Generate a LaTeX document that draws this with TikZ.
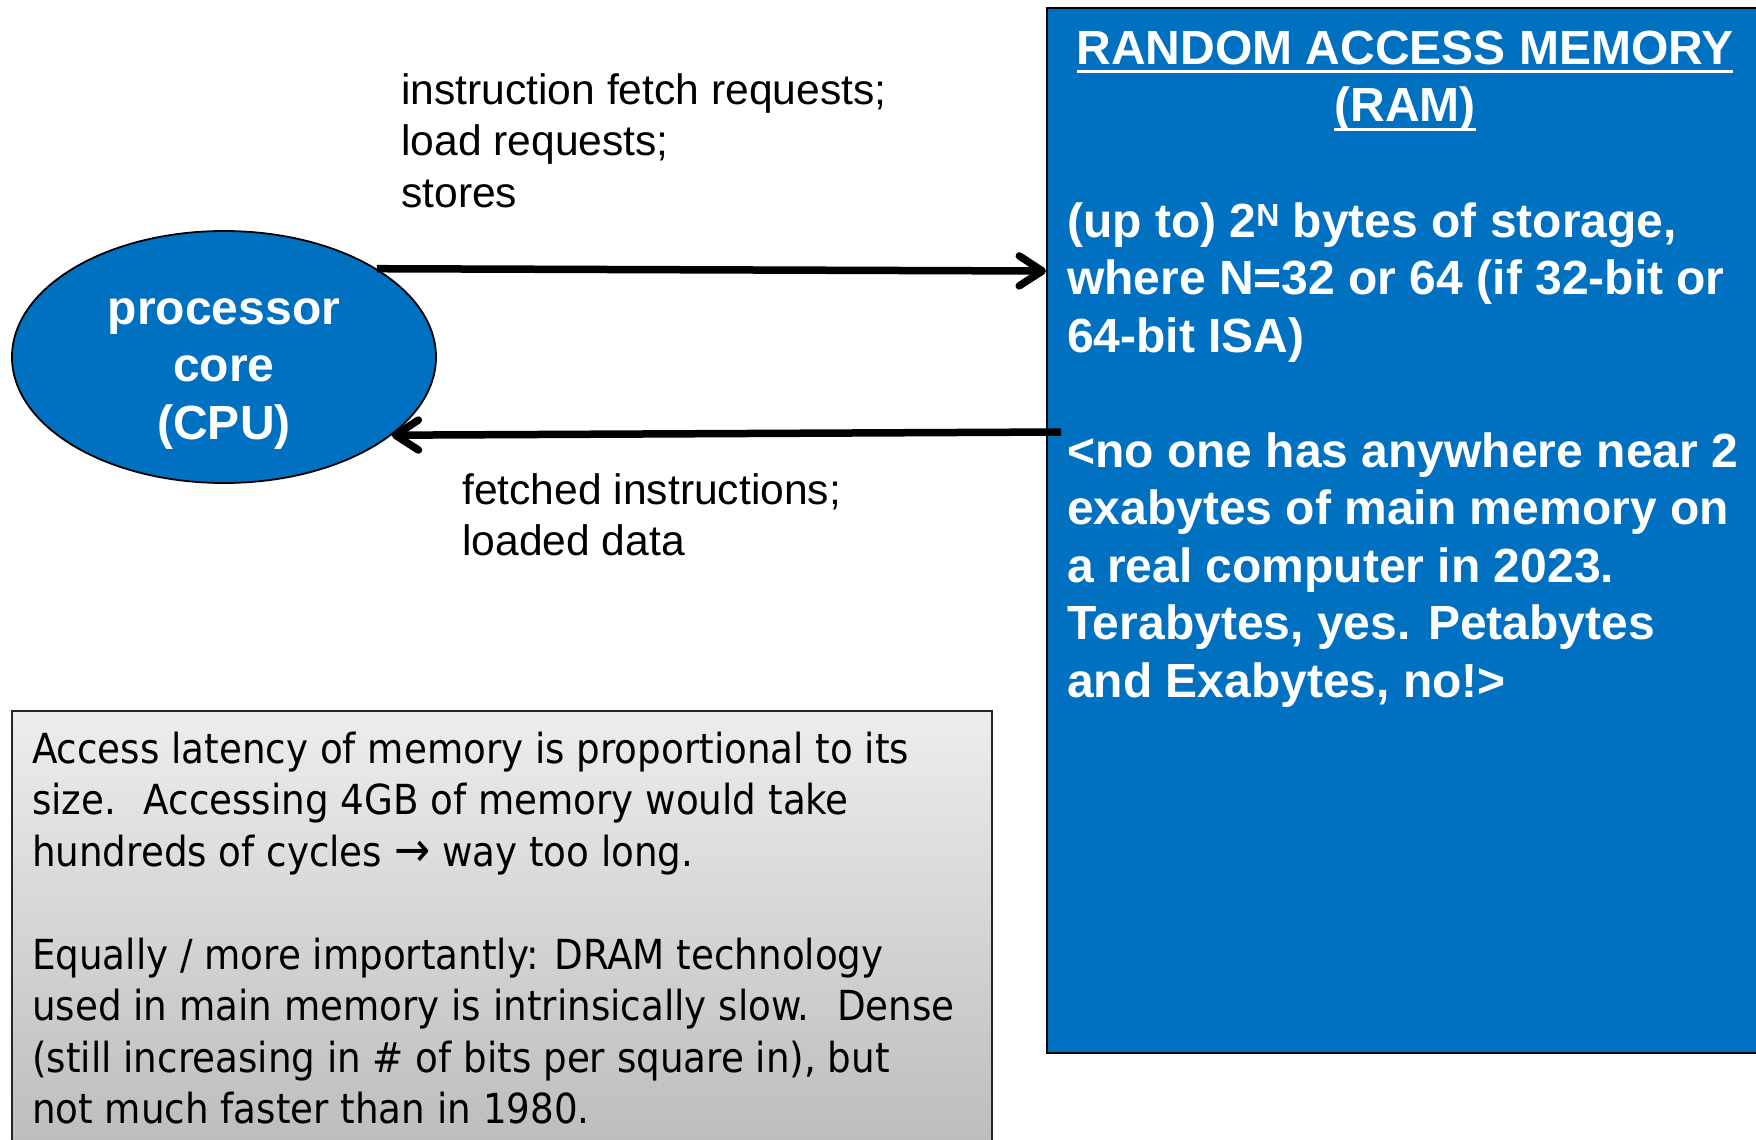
\documentclass[tikz,border=0pt]{standalone}
\usepackage{fontspec}
\setmainfont{Liberation Sans}
\newfontfamily\notefont{DejaVu Sans Condensed}
\usetikzlibrary{arrows.meta,shapes.geometric,calc}

\definecolor{ramblue}{HTML}{0070C0}
\definecolor{notetop}{HTML}{EDEDED}
\definecolor{notebottom}{HTML}{BBBBBB}

% underline drawn as a rule below the baseline
\newcommand\headrule[1]{\setbox0\hbox{#1}\rlap{\rule[-9.3pt]{\wd0}{3.3pt}}\box0}

% multi-line text nodes are placed by the baseline of their last line
\tikzset{
  ramblock/.style={rectangle, draw=black, line width=2pt, fill=ramblue,
    minimum width=716pt, minimum height=1045pt, inner sep=0pt},
  cpushape/.style={ellipse, draw=black, line width=1.8pt, fill=ramblue,
    minimum width=424pt, minimum height=252pt, inner sep=0pt},
  whitebold/.style={text=white, inner sep=0pt,
    font=\fontsize{48}{57.5}\selectfont\bfseries},
  flowlabel/.style={text=black, inner sep=0pt, align=left, anchor=base west,
    font=\fontsize{42.6}{51.5}\selectfont},
  notebox/.style={rectangle, draw=black!85, line width=1.6pt,
    top color=notetop, bottom color=notebottom,
    minimum width=980pt, minimum height=449pt, inner sep=0pt},
  notetext/.style={text=black, inner sep=0pt, align=left, anchor=base west,
    font=\notefont\fontsize{41.4}{51.5}\selectfont},
  flow/.style={draw=black, line width=7.5pt, line cap=butt,
    -{Straight Barb[length=23pt,width=30pt,round]}},
}

\begin{document}
\begin{tikzpicture}[x=1pt,y=-1pt]
\useasboundingbox (0,0) rectangle (1756,1140);
\clip (0,0) rectangle (1756,1140);
\fill[white] (0,0) rectangle (1756,1140);

% memory block and its text
\node[ramblock] (ram) at (1405,530.5) {};
\node[whitebold, align=center, anchor=base] (ramhead) at (1405,121.5)
  {\headrule{RANDOM ACCESS MEMORY}\\\headrule{(RAM)}};
\node[whitebold, align=left, anchor=base west] (rambody) at (1067,697)
  {(up to) 2\raisebox{11pt}{\fontsize{32}{32}\selectfont N} bytes of storage,\\
   where N=32 or 64 (if 32-bit or\\
   64-bit ISA)\\[57.5pt]
   <no one has anywhere near 2\\
   exabytes of main memory on\\
   a real computer in 2023.\\
   Terabytes, yes. Petabytes\\
   and Exabytes, no!>};

% processor core
\node[cpushape] (cpu) at (224,357) {};
\node[whitebold, align=center, anchor=base] (cputext) at (224,439)
  {processor\\core\\(CPU)};

% request and response paths
\coordinate (reqend) at (ram.west |- 0,271);
\coordinate (retstart) at ($(ram.west |- 0,432)+(15,0)$);
\draw[flow] (cpu.30.5) -- (reqend);
\draw[flow] (retstart) -- (cpu.-25.6);

\node[flowlabel] (reqlabel) at (401,207)
  {instruction fetch requests;\\load requests;\\stores};
\node[flowlabel] (retlabel) at (462,555.5)
  {fetched instructions;\\loaded data};

% latency note
\node[notebox] (note) at (502,935.5) {};
\node[notetext] (notebody) at (32,1123.5)
  {Access latency of memory is proportional to its\\
   size.~ Accessing 4GB of memory would take\\
   hundreds of cycles {\fontsize{48}{51.5}\selectfont→} way too long.\\[51.5pt]
   Equally / more importantly: DRAM technology\\
   used in main memory is intrinsically slow.~ Dense\\
   (still increasing in \# of bits per square in), but\\
   not much faster than in 1980.};
\end{tikzpicture}
\end{document}
